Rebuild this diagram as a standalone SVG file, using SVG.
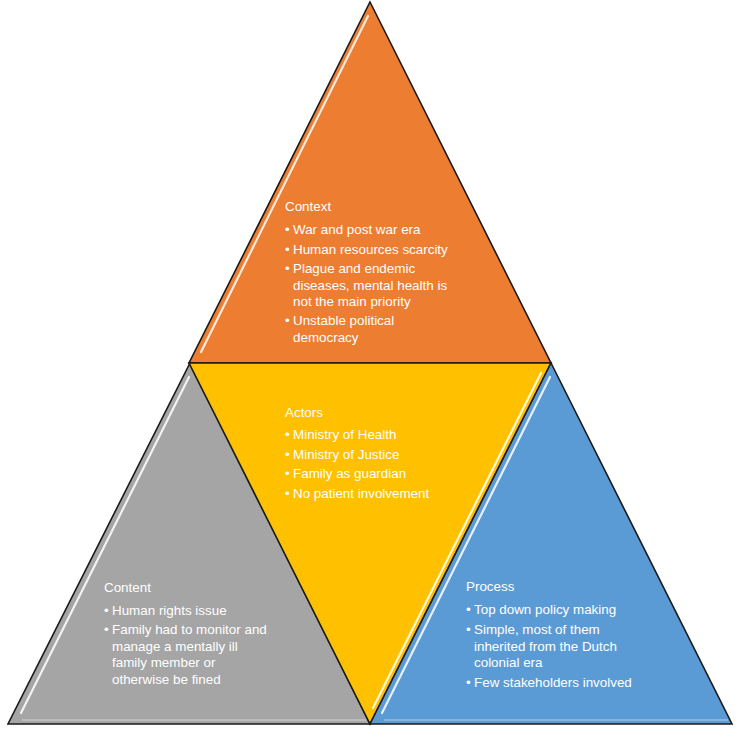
<svg xmlns="http://www.w3.org/2000/svg" width="744" height="739" viewBox="0 0 744 739">
<defs>
<filter id="soft" x="-10%" y="-10%" width="120%" height="120%"><feGaussianBlur stdDeviation="0.6"/></filter>
</defs>
<style>
.tri{stroke:#1a1a1a;stroke-width:1.6;stroke-linejoin:miter}
.hl{stroke:#ffffff;stroke-width:2.2;stroke-linecap:round;fill:none;opacity:0.85;filter:url(#soft)}
.hl2{stroke:#ffffff;stroke-width:1.4;fill:none;opacity:0.35}
.t{font-family:"Liberation Sans",Arial,sans-serif;font-size:13.4px;fill:#ffffff}
</style>
<rect width="744" height="739" fill="#ffffff"/>
<g id="context">
<polygon class="tri" points="370,2 551,363 189,363" fill="#ED7D31"/>
<line class="hl" x1="368" y1="16" x2="201" y2="352"/>
<text class="t" x="285" y="211">Context</text>
<text class="t" y="234"><tspan x="285">•</tspan><tspan x="293">War and post war era</tspan></text>
<text class="t" y="254"><tspan x="285">•</tspan><tspan x="293">Human resources scarcity</tspan></text>
<text class="t" y="273"><tspan x="285">•</tspan><tspan x="293">Plague and endemic</tspan></text>
<text class="t" x="293" y="290">diseases, mental health is</text>
<text class="t" x="293" y="306">not the main priority</text>
<text class="t" y="325"><tspan x="285">•</tspan><tspan x="293">Unstable political</tspan></text>
<text class="t" x="293" y="342">democracy</text>
</g>
<g id="content">
<polygon class="tri" points="190,363 370,724 8,724" fill="#A5A5A5"/>
<line class="hl" x1="189" y1="377" x2="21" y2="713"/>
<line class="hl2" x1="22" y1="720" x2="366" y2="720"/>
<text class="t" x="104" y="592">Content</text>
<text class="t" y="615"><tspan x="104">•</tspan><tspan x="112">Human rights issue</tspan></text>
<text class="t" y="634"><tspan x="104">•</tspan><tspan x="112">Family had to monitor and</tspan></text>
<text class="t" x="112" y="651">manage a mentally ill</text>
<text class="t" x="112" y="667">family member or</text>
<text class="t" x="112" y="684">otherwise be fined</text>
</g>
<g id="actors">
<polygon class="tri" points="189,363 551,363 370,724" fill="#FFC000"/>
<line class="hl" x1="541" y1="373" x2="373" y2="708"/>
<text class="t" x="285" y="417">Actors</text>
<text class="t" y="439"><tspan x="285">•</tspan><tspan x="293">Ministry of Health</tspan></text>
<text class="t" y="459"><tspan x="285">•</tspan><tspan x="293">Ministry of Justice</tspan></text>
<text class="t" y="478"><tspan x="285">•</tspan><tspan x="293">Family as guardian</tspan></text>
<text class="t" y="498"><tspan x="285">•</tspan><tspan x="293">No patient involvement</tspan></text>
</g>
<g id="process">
<polygon class="tri" points="551,363 732,724 370,724" fill="#5B9BD5"/>
<line class="hl" x1="550" y1="377" x2="382" y2="713"/>
<line class="hl2" x1="384" y1="720" x2="728" y2="720"/>
<text class="t" x="466" y="591">Process</text>
<text class="t" y="614"><tspan x="466">•</tspan><tspan x="474">Top down policy making</tspan></text>
<text class="t" y="634"><tspan x="466">•</tspan><tspan x="474">Simple, most of them</tspan></text>
<text class="t" x="474" y="651">inherited from the Dutch</text>
<text class="t" x="474" y="667">colonial era</text>
<text class="t" y="687"><tspan x="466">•</tspan><tspan x="474">Few stakeholders involved</tspan></text>
</g>
<g id="connectors"></g>
</svg>
